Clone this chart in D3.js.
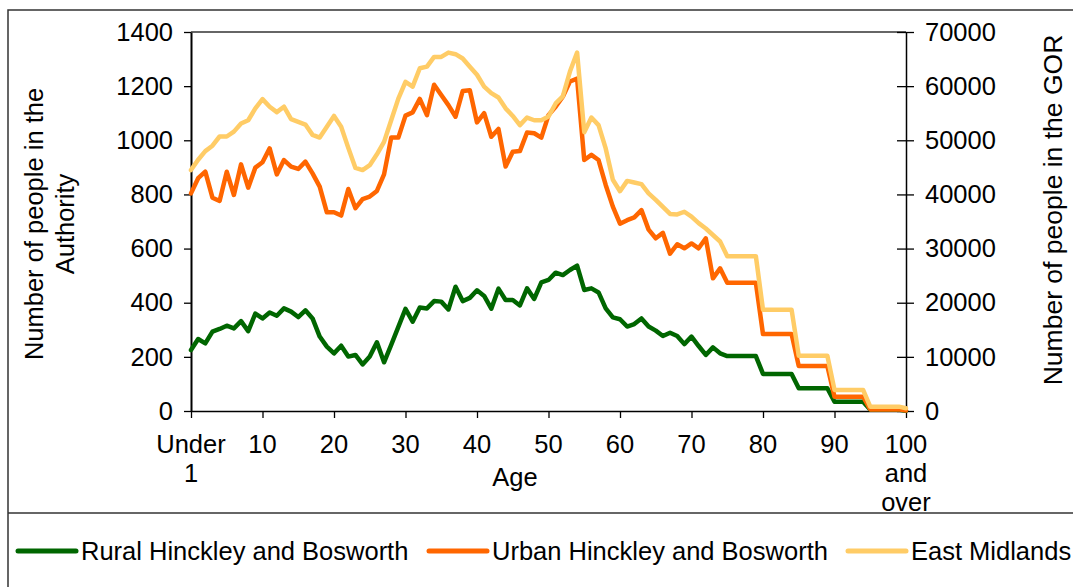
<!DOCTYPE html>
<html>
<head>
<meta charset="utf-8">
<script src="https://cdn.jsdelivr.net/npm/d3@7"></script>
<style>
  body { margin: 0; background: #fff; }
  svg text { font-family: "Liberation Sans", Arial, sans-serif; fill: #000; }
</style>
</head>
<body>
<div id="chart"></div>
<script>
// ages 0 .. 100 ("Under 1" .. "100 and over")
let ages = d3.range(0, 101);

// Rural Hinckley and Bosworth (left axis)
let rural = [
    225, 266, 250, 293, 303, 315, 305, 332, 295, 360,
    342, 364, 352, 379, 367, 347, 372, 342, 275, 238,
    213, 241, 201, 207, 172, 201, 254, 180, 244, 311,
    377, 330, 382, 379, 406, 404, 375, 459, 406, 418,
    446, 425, 378, 452, 410, 410, 390, 453, 414, 475,
    484, 511, 502, 521, 537, 447, 453, 438, 379, 346,
    339, 312, 321, 342, 312, 297, 277, 289, 277, 247,
    275, 240, 207, 235, 213, 203, 203, 203, 203, 203,
    137, 137, 137, 137, 137, 84, 84, 84, 84, 84,
    34, 34, 34, 34, 34, 5, 5, 5, 5, 5,
    1
];

// Urban Hinckley and Bosworth (left axis)
let urban = [
    804, 860, 884, 788, 776, 884, 798, 911, 825, 899,
    919, 970, 874, 927, 903, 894, 921, 878, 829, 734,
    734, 722, 820, 749, 783, 792, 813, 874, 1010, 1010,
    1091, 1103, 1153, 1093, 1205, 1167, 1130, 1087, 1182, 1185,
    1066, 1100, 1013, 1042, 903, 958, 960, 1029, 1026, 1010,
    1093, 1124, 1161, 1217, 1228, 927, 946, 927, 835, 755,
    692, 705, 715, 742, 670, 638, 658, 581, 616, 601,
    619, 601, 638, 490, 527, 474, 474, 474, 474, 474,
    284, 284, 284, 284, 284, 166, 166, 166, 166, 166,
    53, 53, 53, 53, 53, 6, 6, 6, 6, 6,
    2
];

// East Midlands (right axis)
let eastMidlands = [
    44500, 46400, 48000, 49000, 50700, 50700, 51600, 53100, 53700, 55900,
    57600, 56200, 55200, 56200, 53900, 53400, 52900, 51000, 50500, 52500,
    54500, 52500, 48600, 44900, 44500, 45400, 47400, 49700, 53700, 57700,
    60800, 59900, 63300, 63600, 65400, 65400, 66200, 65900, 65100, 63600,
    62100, 59900, 58700, 57900, 55900, 54500, 52800, 54200, 53700, 53700,
    54400, 56800, 58100, 62700, 66200, 51500, 54200, 52800, 48500, 42700,
    40600, 42500, 42200, 41900, 40200, 39000, 37700, 36400, 36300, 36800,
    35900, 34700, 33700, 32500, 31300, 28600, 28600, 28600, 28600, 28600,
    18700, 18700, 18700, 18700, 18700, 10200, 10200, 10200, 10200, 10200,
    3900, 3900, 3900, 3900, 3900, 800, 800, 800, 800, 800,
    500
];

let xTicks = [0, 10, 20, 30, 40, 50, 60, 70, 80, 90, 100];
let xTickLabels = [["Under", "1"], ["10"], ["20"], ["30"], ["40"], ["50"], ["60"], ["70"], ["80"], ["90"], ["100", "and", "over"]];
let leftTicks = [0, 200, 400, 600, 800, 1000, 1200, 1400];
let rightTicks = [0, 10000, 20000, 30000, 40000, 50000, 60000, 70000];

let seriesNames = ["Rural Hinckley and Bosworth", "Urban Hinckley and Bosworth", "East Midlands"];
let seriesColors = ["#006600", "#ff6600", "#ffcc66"];

let width = 1073, height = 587;
let fontSize = "25.5px";

let svg = d3.select("#chart").append("svg")
    .attr("width", width)
    .attr("height", height);

// outer frame + legend separator
svg.append("path")
    .attr("d", "M8," + height + "L8,10L" + width + ",10")
    .attr("fill", "none")
    .attr("stroke", "#333")
    .attr("stroke-width", 1.5);
svg.append("line")
    .attr("x1", 8).attr("x2", width)
    .attr("y1", 513).attr("y2", 513)
    .attr("stroke", "#333")
    .attr("stroke-width", 1.5);

// scales
let x = d3.scaleLinear().domain([0, 100]).range([191, 906]);
let yL = d3.scaleLinear().domain([0, 1400]).range([411, 32]);
let yR = d3.scaleLinear().domain([0, 70000]).range([411, 32]);

// top border of plot area
svg.append("line")
    .attr("x1", x(0)).attr("x2", x(100))
    .attr("y1", yL(1400)).attr("y2", yL(1400))
    .attr("stroke", "#333")
    .attr("stroke-width", 1.5);

// left axis
let leftAxis = svg.append("g")
    .attr("transform", "translate(" + x(0) + ",0)")
    .call(d3.axisLeft(yL).tickValues(leftTicks).tickSize(7).tickPadding(11).tickSizeOuter(0).tickFormat(d3.format("d")));
leftAxis.select(".domain").attr("stroke", "#000").attr("stroke-width", 2);
leftAxis.selectAll(".tick line").attr("stroke", "#000").attr("stroke-width", 1.3);
leftAxis.selectAll(".tick text").style("font-size", fontSize).attr("fill", "#000");

// right axis (cross ticks)
let rightAxis = svg.append("g")
    .attr("transform", "translate(" + x(100) + ",0)")
    .call(d3.axisRight(yR).tickValues(rightTicks).tickSize(8).tickPadding(11).tickSizeOuter(0).tickFormat(d3.format("d")));
rightAxis.select(".domain").attr("stroke", "#000").attr("stroke-width", 1.5);
rightAxis.selectAll(".tick line").attr("x1", -9).attr("stroke", "#000").attr("stroke-width", 1.3);
rightAxis.selectAll(".tick text").style("font-size", fontSize).attr("fill", "#000");

// bottom axis
let bottomAxis = svg.append("g")
    .attr("transform", "translate(0," + yL(0) + ")")
    .call(d3.axisBottom(x).tickValues(xTicks).tickSize(7).tickSizeOuter(0).tickFormat(""));
bottomAxis.select(".domain").attr("stroke", "#000").attr("stroke-width", 1.5);
bottomAxis.selectAll(".tick line").attr("stroke", "#000").attr("stroke-width", 1.3);

// multi-line category labels
svg.append("g").selectAll("text")
    .data(xTicks)
    .enter().append("text")
    .attr("x", d => x(d))
    .attr("y", 453)
    .attr("text-anchor", "middle")
    .style("font-size", fontSize)
    .each(function(d, i) {
        let t = d3.select(this);
        xTickLabels[i].forEach((line, j) => {
            t.append("tspan").attr("x", x(d)).attr("dy", j === 0 ? 0 : 29).text(line);
        });
    });

// axis titles
svg.append("text")
    .attr("x", 515).attr("y", 486)
    .attr("text-anchor", "middle")
    .style("font-size", fontSize)
    .text("Age");

let leftTitle = svg.append("text")
    .attr("transform", "translate(43,224) rotate(-90)")
    .attr("text-anchor", "middle")
    .style("font-size", fontSize);
leftTitle.append("tspan").attr("x", 0).attr("dy", 0).text("Number of people in the");
leftTitle.append("tspan").attr("x", 0).attr("dy", 31).text("Authority");

svg.append("text")
    .attr("transform", "translate(1062,210) rotate(-90)")
    .attr("text-anchor", "middle")
    .style("font-size", "26.5px")
    .text("Number of people in the GOR");

// lines
let lineL = d3.line().x((d, i) => x(ages[i])).y(d => yL(d));
let lineR = d3.line().x((d, i) => x(ages[i])).y(d => yR(d));

let seriesData = [rural, urban, eastMidlands];
let lineGens = [lineL, lineL, lineR];

svg.append("g").selectAll("path")
    .data(seriesData)
    .enter().append("path")
    .attr("d", (d, i) => lineGens[i](d))
    .attr("fill", "none")
    .attr("stroke", (d, i) => seriesColors[i])
    .attr("stroke-width", 4.5)
    .attr("stroke-linejoin", "round")
    .attr("stroke-linecap", "round");

// legend
let legendX = [18, 429, 848];
let legend = svg.append("g").selectAll("g")
    .data(seriesNames)
    .enter().append("g")
    .attr("transform", (d, i) => "translate(" + legendX[i] + ",551)");
legend.append("line")
    .attr("x1", 0).attr("x2", 58)
    .attr("y1", 0).attr("y2", 0)
    .attr("stroke", (d, i) => seriesColors[i])
    .attr("stroke-width", 5)
    .attr("stroke-linecap", "round");
legend.append("text")
    .attr("x", 63).attr("y", 9)
    .style("font-size", fontSize)
    .text(d => d);
</script>
</body>
</html>
